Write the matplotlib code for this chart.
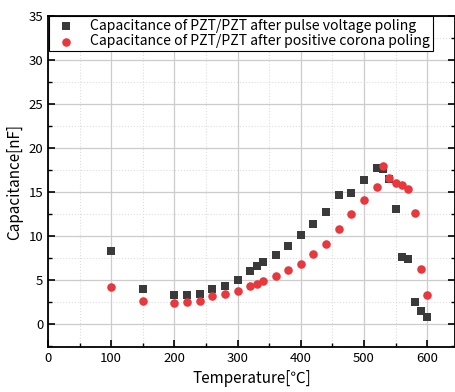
import matplotlib
matplotlib.use('Agg')
import matplotlib.pyplot as plt
from matplotlib.ticker import MultipleLocator

plt.rcParams['font.family'] = ['Noto Sans CJK JP', 'DejaVu Sans']

# temperature steps (same for both series)
temps = [100, 150, 200, 220, 240, 260, 280, 300, 320, 330, 340, 360, 380, 400,
         420, 440, 460, 480, 500, 520, 530, 540, 550, 560, 570, 580, 590, 600]

cap_pulse = [8.3, 4.0, 3.3, 3.3, 3.4, 4.0, 4.3, 5.0, 6.0, 6.6, 7.0, 7.9, 8.9, 10.15,
             11.4, 12.7, 14.65, 14.85, 16.4, 17.7, 17.6, 16.5, 13.1, 7.6, 7.35, 2.5, 1.5, 0.85]

cap_corona = [4.2, 2.6, 2.4, 2.5, 2.65, 3.2, 3.45, 3.8, 4.3, 4.6, 4.9, 5.45, 6.1, 6.8,
              7.95, 9.1, 10.8, 12.5, 14.15, 15.55, 17.95, 16.65, 16.0, 15.8, 15.35, 12.65, 6.3, 3.3]

label_pulse = 'Capacitance of PZT/PZT after pulse voltage poling'
label_corona = 'Capacitance of PZT/PZT after positive corona poling'

fig = plt.figure(figsize=(4.56, 3.92), dpi=100)
ax = fig.add_axes([48/456, 45/392, 407/456, 331/392])

ax.scatter(temps, cap_pulse, marker='s', s=30, color='#3a3a3a', linewidths=0,
           label=label_pulse, zorder=3)
ax.scatter(temps, cap_corona, marker='o', s=38, color='#e8373d', linewidths=0,
           label=label_corona, zorder=3)

ax.set_xlim(0, 644)
ax.set_ylim(-2.6, 35)
ax.xaxis.set_major_locator(MultipleLocator(100))
ax.xaxis.set_minor_locator(MultipleLocator(50))
ax.yaxis.set_major_locator(MultipleLocator(5))
ax.yaxis.set_minor_locator(MultipleLocator(2.5))

ax.grid(which='major', color='#cccccc', linewidth=0.9)
ax.grid(which='minor', color='#dddddd', linewidth=0.8, linestyle=':')
ax.set_axisbelow(True)

ax.tick_params(which='both', direction='in', top=False, right=True, labelsize=9.5)
ax.tick_params(which='major', length=5, width=1.2)
ax.tick_params(which='minor', length=3, width=1)
for sp in ax.spines.values():
    sp.set_linewidth(1.3)

ax.set_xlabel('Temperature[℃]', fontsize=11, labelpad=4)
ax.set_ylabel('Capacitance[nF]', fontsize=11, labelpad=4)

leg = ax.legend(loc='upper left', bbox_to_anchor=(0.003, 1.0), borderaxespad=0,
                fontsize=10.1, frameon=True, fancybox=False, framealpha=1,
                edgecolor='black', handletextpad=0.7, labelspacing=0.12,
                borderpad=0.2, markerscale=1.0)
leg.get_frame().set_linewidth(0.8)

fig.savefig('out.png', dpi=100)
